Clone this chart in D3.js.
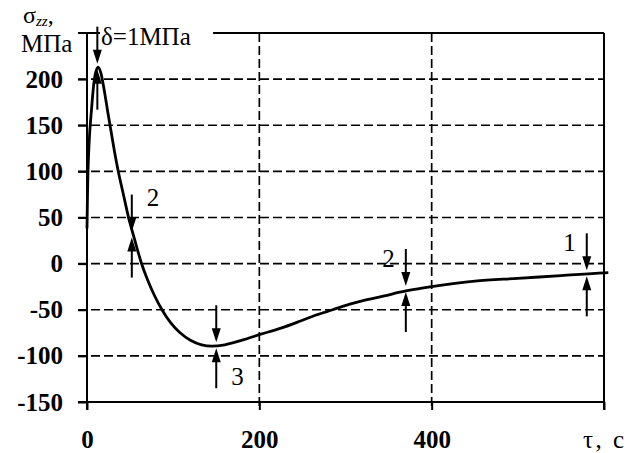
<!DOCTYPE html>
<html><head><meta charset="utf-8">
<script src="https://cdn.jsdelivr.net/npm/d3@7"></script>
</head><body style="margin:0">
<svg id="c" width="637" height="453"></svg>
<script>
// ---- data ----
const tau   = [0, 0.5, 1, 2, 3, 4, 6, 8, 10, 13, 16, 20, 24, 28, 32, 36.5, 42, 48, 55, 63, 70, 78, 87, 97, 108, 120, 133, 145, 160, 180, 200, 225, 247, 265, 285, 305, 325, 345, 363, 380, 400, 450, 500, 550, 600, 605];
const sigma = [38, 70, 95, 122, 140, 153, 176, 196, 207, 213, 207, 188, 165, 143, 121, 99, 76, 51, 27, 1, -17, -34, -50, -64, -75, -83, -88, -89.5, -88, -83, -77, -70, -62.5, -56, -50, -44, -39, -35, -31, -28, -25, -19, -16, -13, -10, -9.8];
const yTicks = [200, 150, 100, 50, 0, -50, -100, -150];
const yGrid  = [200, 150, 100, 50, 0, -50, -100];
const xTicks = [0, 200, 400, 600];
const xTickLabels = ["0", "200", "400", ""];
const xGrid  = [200, 400];
const markTau   = [12, 52, 150, 370, 580];
const markSigma = [213.5, 31.5, -88.5, -27.5, -10.5];
const markLabel = ["", "2", "3", "2", "1"];
const markSide  = ["none", "rightAbove", "rightBelow", "leftAbove", "leftAbove"];
const yTitle = "σ", yTitleSub = "zz", yUnit = "МПа", xTitle = "τ, c", deltaLabel = "δ=1МПа";

// ---- layout ----
const FONT = "Liberation Serif";
const svg = d3.select("#c");
const x = d3.scaleLinear().domain([0, 600]).range([87, 604]);
const y = d3.scaleLinear().domain([-150, 250]).range([402, 33]);
const X0 = x(0), X1 = x(600), Ytop = y(250), Ybot = y(-150);
const FS = 25;

function txt(sel, size) {
  return sel.attr("font-family", FONT).style("font-family", `"${FONT}"`)
    .attr("font-size", size).attr("fill", "#000");
}

// gridlines
svg.append("g").selectAll("line").data(yGrid).join("line")
  .attr("x1", X0 - 9).attr("x2", X1).attr("y1", d => y(d)).attr("y2", d => y(d))
  .attr("stroke", "#000").attr("stroke-width", 1.7).attr("stroke-dasharray", "9,4");
svg.append("g").selectAll("line").data(xGrid).join("line")
  .attr("x1", d => x(d)).attr("x2", d => x(d)).attr("y1", Ytop).attr("y2", Ybot + 8)
  .attr("stroke", "#000").attr("stroke-width", 1.7).attr("stroke-dasharray", "9,4");

// axes (ticks + labels)
const gy = svg.append("g").attr("transform", `translate(${X0},0)`)
  .call(d3.axisLeft(y).tickValues(yTicks).tickSize(9).tickPadding(15).tickFormat(d => d));
gy.attr("font-family", null).attr("font-size", null);
gy.select(".domain").remove();
gy.selectAll(".tick line").attr("stroke", "#000").attr("stroke-width", 2);
txt(gy.selectAll(".tick text"), FS).attr("font-weight", "bold");

const gx = svg.append("g").attr("transform", `translate(0,${Ybot})`)
  .call(d3.axisBottom(x).tickValues(xTicks).tickSize(8).tickPadding(20).tickFormat((d, i) => xTickLabels[i]));
gx.attr("font-family", null).attr("font-size", null);
gx.select(".domain").remove();
gx.selectAll(".tick line").attr("stroke", "#000").attr("stroke-width", 2);
txt(gx.selectAll(".tick text"), FS).attr("font-weight", "bold");

// frame
const frame = svg.append("g").attr("stroke", "#000").attr("stroke-width", 2).attr("fill", "none");
frame.append("line").attr("x1", X0).attr("x2", X0).attr("y1", Ytop).attr("y2", Ybot + 8);
frame.append("line").attr("x1", X1).attr("x2", X1).attr("y1", Ytop).attr("y2", Ybot + 8);
frame.append("line").attr("x1", X0 - 9).attr("x2", X1).attr("y1", Ybot).attr("y2", Ybot);
frame.append("line").attr("x1", X0 - 9).attr("x2", X1).attr("y1", Ytop).attr("y2", Ytop);

// curve
const pts = tau.map((t, i) => [t, sigma[i]]);
svg.append("path").datum(pts)
  .attr("d", d3.line().x(d => x(d[0])).y(d => y(d[1])).curve(d3.curveMonotoneX))
  .attr("fill", "none").attr("stroke", "#000").attr("stroke-width", 2.8).attr("stroke-linejoin", "round");

// delta label with white background (covers top border)
svg.append("rect").attr("x", 100).attr("y", 22).attr("width", 113).attr("height", 22).attr("fill", "#fff");
txt(svg.append("text"), FS).attr("x", 101).attr("y", 45).text(deltaLabel);

// arrows
const HL = 14, HW = 4.5, GAP = 3, DOWN = 37, UP = 40;
const ag = svg.append("g");
markTau.forEach((t, i) => {
  const cx = x(t), cy = y(markSigma[i]);
  const t1 = cy - GAP;
  ag.append("line").attr("x1", cx).attr("x2", cx).attr("y1", t1 - DOWN).attr("y2", t1 - HL + 2)
    .attr("stroke", "#000").attr("stroke-width", 2);
  ag.append("path").attr("d", `M${cx - HW},${t1 - HL}L${cx + HW},${t1 - HL}L${cx},${t1}Z`).attr("fill", "#000");
  const t2 = cy + GAP;
  ag.append("line").attr("x1", cx).attr("x2", cx).attr("y1", t2 + UP).attr("y2", t2 + HL - 2)
    .attr("stroke", "#000").attr("stroke-width", 2);
  ag.append("path").attr("d", `M${cx - HW},${t2 + HL}L${cx + HW},${t2 + HL}L${cx},${t2}Z`).attr("fill", "#000");
  const side = markSide[i];
  if (side === "none") return;
  let lx, ly, anchor = "start";
  if (side === "rightAbove") { lx = cx + 15; ly = cy - 29; }
  else if (side === "rightBelow") { lx = cx + 15; ly = cy + 40; }
  else { lx = cx - 11; ly = cy - 22; anchor = "end"; }
  txt(ag.append("text"), FS).attr("x", lx).attr("y", ly).attr("text-anchor", anchor).text(markLabel[i]);
});

// axis titles
const yt = txt(svg.append("text"), 24).attr("x", 23).attr("y", 23);
yt.append("tspan").text(yTitle);
yt.append("tspan").attr("font-size", 15).attr("font-style", "italic").attr("dy", 3).text(yTitleSub);
yt.append("tspan").attr("dy", -3).text(",");
txt(svg.append("text"), FS).attr("x", 21).attr("y", 51.5).text(yUnit);
txt(svg.append("text"), FS).attr("x", 583).attr("y", 448)
  .attr("textLength", 41).attr("lengthAdjust", "spacing").text(xTitle);
</script>
</body></html>
